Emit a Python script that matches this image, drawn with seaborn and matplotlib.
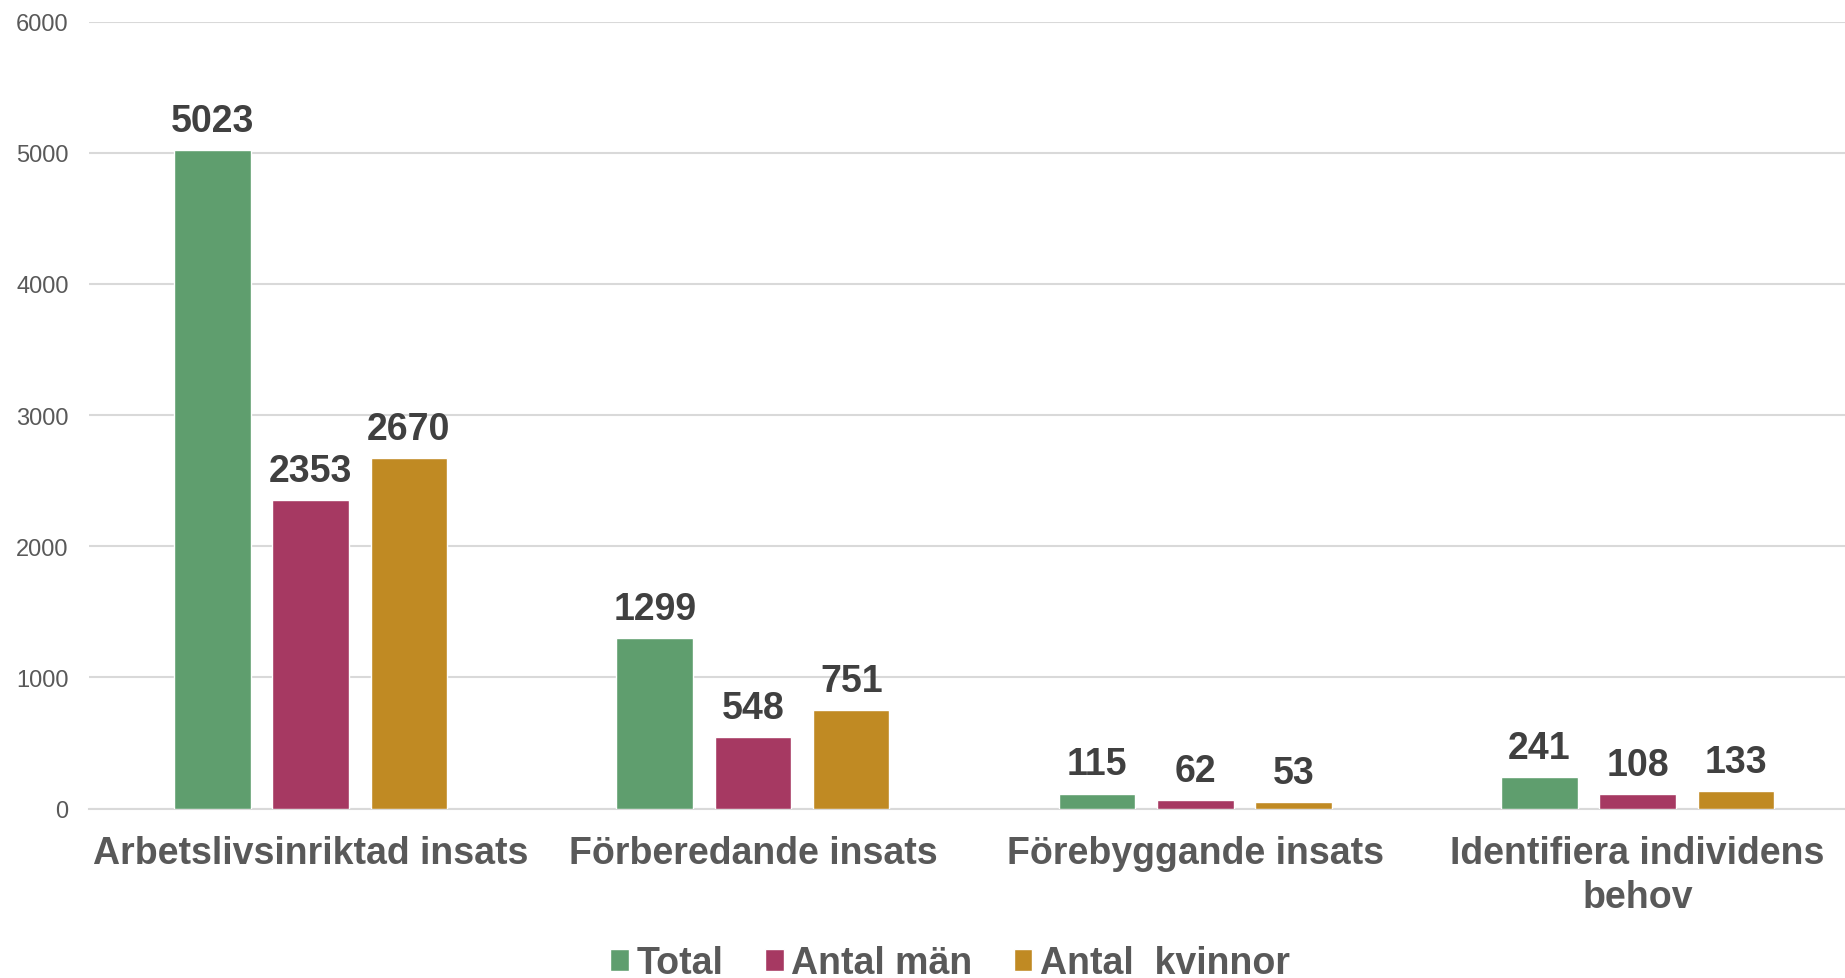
import pandas as pd
import matplotlib.pyplot as plt
import seaborn as sns

# Data
categories = ['Arbetslivsinriktad insats', 'Förberedande insats',
              'Förebyggande insats', 'Identifiera individens\nbehov']
series_names = ['Total', 'Antal män', 'Antal  kvinnor']
total = [5023, 1299, 115, 241]
men = [2353, 548, 62, 108]
women = [2670, 751, 53, 133]
y_ticks = [0, 1000, 2000, 3000, 4000, 5000, 6000]

rows = []
for name, vals in zip(series_names, [total, men, women]):
    for cat, v in zip(categories, vals):
        rows.append({'Kategori': cat, 'Antal': v, 'Serie': name})
df = pd.DataFrame(rows)

sns.set_theme(style="white")
plt.rcParams['font.family'] = ['Liberation Sans', 'DejaVu Sans']

palette = {'Total': '#5F9E6E', 'Antal män': '#A63962', 'Antal  kvinnor': '#C08A23'}

fig = plt.figure(figsize=(18.45, 9.79), dpi=100)
# plot area runs a bit past the right edge, as in the reference
ax = fig.add_axes([0.0485, 0.173, 0.959, 0.804])

sns.barplot(data=df, x='Kategori', y='Antal', hue='Serie', palette=palette,
            width=0.666, gap=0.22, saturation=1, ax=ax, zorder=3)

for cont in ax.containers:
    ax.bar_label(cont, fmt='%d', padding=8, fontsize=27, fontweight='bold',
                 color='#404040')

ax.set_xlim(-0.5, 3.5)
ax.set_ylim(0, 6000)
ax.set_yticks(y_ticks)
ax.set_xlabel('')
ax.set_ylabel('')
ax.yaxis.grid(True, color='#D9D9D9', linewidth=1.5, zorder=0)
ax.set_axisbelow(True)

for side in ['left', 'right', 'top']:
    ax.spines[side].set_visible(False)
ax.spines['bottom'].set_color('#D9D9D9')
ax.spines['bottom'].set_linewidth(1.5)

ax.tick_params(axis='y', length=0, pad=15, labelsize=17, labelcolor='#595959')
ax.tick_params(axis='x', length=0, pad=19, labelsize=27, labelcolor='#595959')
for lbl in ax.get_xticklabels():
    lbl.set_fontweight('bold')
    lbl.set_linespacing(1.3)

ax.get_legend().remove()
handles, labels = ax.get_legend_handles_labels()
leg = fig.legend(handles[:3], labels[:3], loc='center', bbox_to_anchor=(0.515, 0.015),
                 ncol=3, frameon=False, handlelength=0.5, handleheight=0.5,
                 handletextpad=0.2, columnspacing=1.1, borderpad=0.1,
                 prop={'size': 27, 'weight': 'bold'})
for t in leg.get_texts():
    t.set_color('#595959')

fig.savefig('out.png', dpi=100)
